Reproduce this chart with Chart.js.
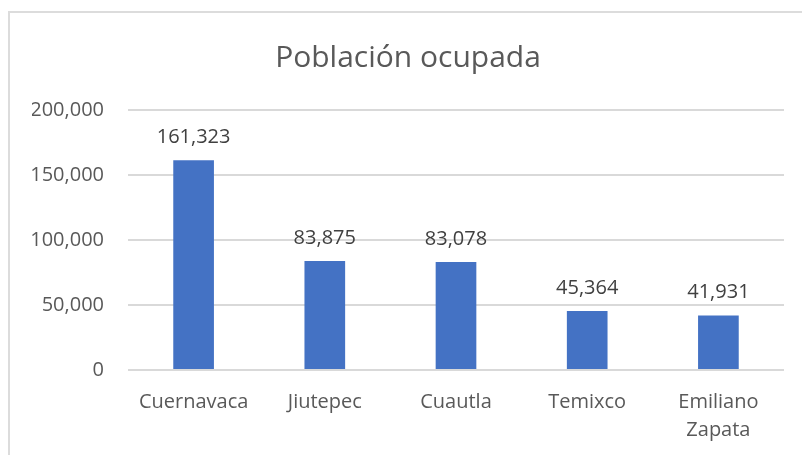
<!DOCTYPE html>
<html>
<head>
<meta charset="utf-8">
<script src="https://cdn.jsdelivr.net/npm/chart.js@4/dist/chart.umd.min.js"></script>
<style>
  html, body { margin: 0; padding: 0; background: #fff; }
  #wrap { position: relative; width: 802px; height: 455px; overflow: hidden; }
  #frame { position: absolute; left: 8px; top: 11px; width: 820px; height: 470px; border: 2px solid #dcdcdc; box-sizing: border-box; }
  canvas { position: absolute; left: 0; top: 0; }
</style>
</head>
<body>
<div id="wrap">
  <div id="frame"></div>
  <canvas id="chart" width="802" height="455"></canvas>
</div>
<script>
const municipios = ['Cuernavaca', 'Jiutepec', 'Cuautla', 'Temixco', ['Emiliano', 'Zapata']];
const poblacionOcupada = [161323, 83875, 83078, 45364, 41931];
const ticksY = [0, 50000, 100000, 150000, 200000];

const fmt = v => v.toLocaleString('en-US');

// etiquetas de valor sobre cada barra
const etiquetas = {
    id: 'etiquetas',
    afterDatasetsDraw(chart) {
        const ctx = chart.ctx;
        const meta = chart.getDatasetMeta(0);
        ctx.save();
        ctx.font = '20px "Open Sans"';
        ctx.fillStyle = '#404040';
        ctx.textAlign = 'center';
        ctx.textBaseline = 'alphabetic';
        meta.data.forEach((bar, i) => {
            ctx.fillText(fmt(poblacionOcupada[i]), bar.x, bar.y - 17);
        });
        ctx.restore();
    }
};

new Chart(document.getElementById('chart').getContext('2d'), {
    type: 'bar',
    data: {
        labels: municipios,
        datasets: [{
            label: 'Población ocupada',
            data: poblacionOcupada,
            backgroundColor: '#4472C4',
            borderWidth: 0,
            barPercentage: 0.31,
            categoryPercentage: 1
        }]
    },
    options: {
        responsive: false,
        animation: false,
        layout: { padding: { left: 32, right: 18, top: 0, bottom: 0 } },
        plugins: {
            legend: { display: false },
            tooltip: { enabled: false },
            title: {
                display: true,
                text: 'Población ocupada',
                color: '#595959',
                font: { family: 'Open Sans', size: 30, weight: '400', lineHeight: 1.2 },
                padding: { top: 40, bottom: 34 }
            }
        },
        scales: {
            x: {
                grid: { display: false, drawTicks: false },
                border: { display: false },
                ticks: {
                    color: '#595959',
                    font: { family: 'Open Sans', size: 20, lineHeight: 1.4 },
                    padding: 18,
                    maxRotation: 0,
                    autoSkip: false
                },
                afterFit: s => { s.height = 85; }
            },
            y: {
                min: 0,
                max: 200000,
                afterBuildTicks: s => { s.ticks = ticksY.map(v => ({ value: v })); },
                grid: { color: '#d9d9d9', lineWidth: 2, drawTicks: false },
                border: { display: false },
                ticks: {
                    color: '#595959',
                    font: { family: 'Open Sans', size: 20 },
                    padding: 24,
                    callback: v => fmt(v)
                },
                afterFit: s => { s.width = 96; }
            }
        }
    },
    plugins: [etiquetas]
});
</script>
</body>
</html>
